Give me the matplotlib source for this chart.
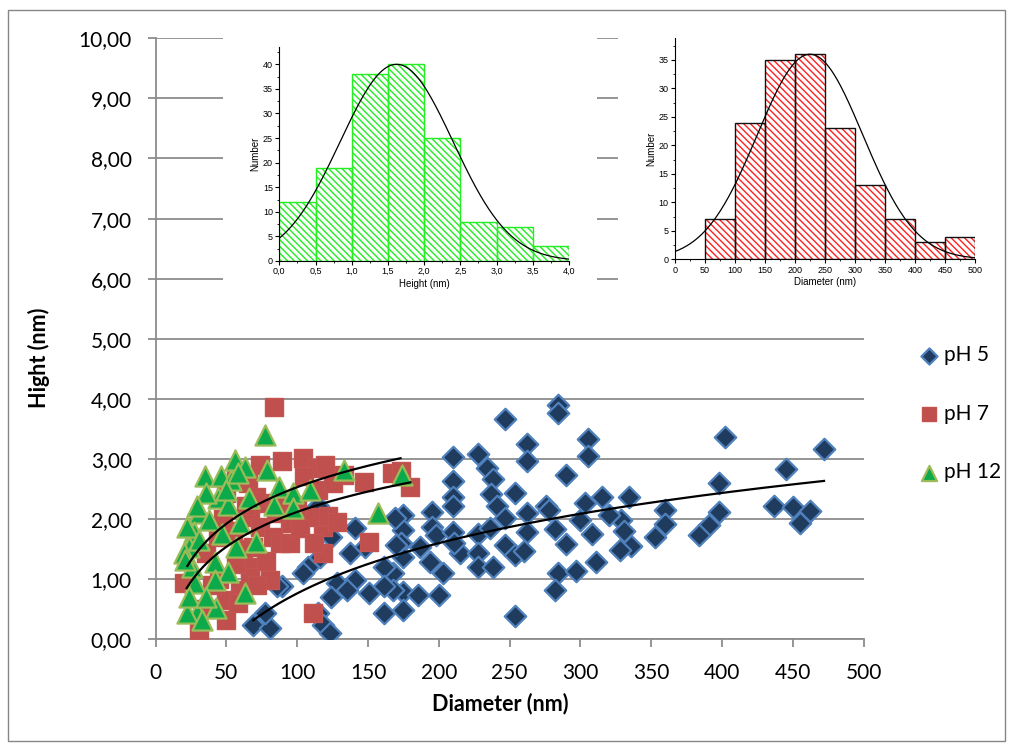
import matplotlib
matplotlib.use("Agg")
import matplotlib.pyplot as plt
import numpy as np
from matplotlib.patches import Rectangle
from matplotlib.ticker import MultipleLocator, FuncFormatter

plt.rcParams['font.family'] = ['Lato', 'DejaVu Sans']

# scatter data (diameter nm, height nm)
ph5_x = [402, 472, 445, 398, 334, 360, 360, 353, 398, 391, 384, 437, 450, 462, 455, 329, 331, 336, 328,
         284, 284, 247, 305, 305, 262, 262, 290, 210, 228, 234, 238, 210, 237, 254, 315, 303, 276, 210,
         210, 195, 175, 241, 247, 262, 278, 300, 320, 175, 195, 198, 210, 215, 228, 236, 282, 290, 308,
         262, 247, 254, 260, 228, 228, 238, 203, 194, 187, 173, 175, 168, 175, 185, 200, 175, 284, 282,
         297, 311, 254, 168, 211,
         69, 81, 77, 89, 115, 108, 104, 116, 124, 141, 148, 137, 161, 170, 169, 141, 128, 135, 124, 115,
         118, 123, 151, 161, 161, 86]
ph5_y = [3.36, 3.16, 2.84, 2.60, 2.37, 2.15, 1.92, 1.70, 2.12, 1.91, 1.74, 2.21, 2.20, 2.14, 1.94, 1.98, 1.81, 1.56, 1.49,
         3.90, 3.76, 3.66, 3.33, 3.05, 3.25, 2.96, 2.73, 3.03, 3.08, 2.85, 2.66, 2.63, 2.42, 2.43, 2.37, 2.27, 2.22, 2.36,
         2.21, 2.12, 2.07, 2.21, 2.01, 2.10, 2.15, 1.98, 2.07, 1.82, 1.87, 1.74, 1.79, 1.43, 1.76, 1.85, 1.83, 1.59, 1.76,
         1.79, 1.57, 1.40, 1.47, 1.43, 1.21, 1.21, 1.10, 1.28, 1.54, 1.60, 1.37, 1.10, 0.79, 0.74, 0.74, 0.49, 1.11, 0.82,
         1.14, 1.29, 0.39, 0.82, 1.60,
         0.24, 0.18, 0.43, 0.88, 2.21, 1.21, 1.10, 1.37, 1.71, 1.85, 1.54, 1.43, 1.21, 1.57, 2.01, 0.99, 0.93, 0.82, 0.71, 0.43,
         0.24, 0.10, 0.77, 0.88, 0.43, 0.88]

ph7_x = [84, 104, 89, 114, 74, 105, 133, 147, 167, 115, 78, 67, 74, 95, 118, 109, 83, 69, 151, 118,
         67, 81, 67, 60, 50, 31, 20, 111, 50, 57, 44, 36, 71, 64, 57, 50, 173, 180,
         45, 55, 62, 72, 78, 88, 90, 100, 58, 40, 35, 48, 65, 85, 95, 102, 122, 128, 112, 125, 120]
ph7_y = [3.87, 3.01, 2.96, 2.85, 2.90, 2.71, 2.73, 2.62, 2.76, 2.48, 2.26, 2.04, 1.87, 1.93, 1.87, 2.04, 1.71, 1.54, 1.62, 1.43,
         1.21, 0.99, 1.04, 0.82, 0.32, 0.16, 0.93, 0.43, 0.65, 1.26, 1.71, 1.43, 2.37, 2.21, 2.65, 2.43, 2.80, 2.54,
         1.00, 1.80, 1.50, 0.90, 1.30, 1.60, 2.30, 2.20, 0.60, 0.90, 0.50, 2.00, 2.60, 2.10, 1.60, 1.85, 2.05, 1.95, 1.60, 2.60, 2.90]

ph12_x = [77, 35, 56, 63, 79, 46, 53, 133, 87, 44, 31, 36, 51, 66, 84, 97, 109, 97, 60, 47,
          27, 24, 71, 57, 42, 26, 51, 42, 28, 63, 43, 29, 22, 33, 157, 22, 29, 20, 174,
          21, 31, 38, 24, 36, 50, 58]
ph12_y = [3.40, 2.71, 2.98, 2.87, 2.82, 2.71, 2.65, 2.82, 2.54, 2.35, 2.10, 2.43, 2.23, 2.35, 2.23, 2.43, 2.48, 2.18, 1.93, 1.76,
          1.79, 1.54, 1.62, 1.54, 1.29, 1.21, 1.12, 0.99, 0.93, 0.77, 0.52, 0.46, 0.43, 0.32, 2.10, 1.87, 2.21, 1.43, 2.73,
          1.32, 1.65, 1.99, 0.71, 0.71, 2.48, 2.76]

# log trendlines: y = a*ln(x) + b over [x0, x1]
trend_ph5 = (1.206, -4.79, 69, 472)
trend_ph7 = (0.838, -1.74, 22, 180)
trend_ph12 = (0.879, -1.517, 22.5, 173)

# inset histograms
h_edges = [0.0, 0.5, 1.0, 1.5, 2.0, 2.5, 3.0, 3.5, 4.0]
h_counts = [12, 19, 38, 40, 25, 8, 7, 3]
h_fit = (40, 1.62, 0.78)      # amplitude, centre, sigma
d_edges = [50, 100, 150, 200, 250, 300, 350, 400, 450, 500]
d_counts = [7, 24, 35, 36, 23, 13, 7, 3, 4]
d_fit = (36, 225, 88)

fig = plt.figure(figsize=(10.11, 7.46), dpi=100)
W, H = 1011, 746

def px(x0, y0, x1, y1):
    return [x0 / W, 1 - y1 / H, (x1 - x0) / W, (y1 - y0) / H]

# chart border
fig.patches.append(Rectangle((8 / W, 1 - 741 / H), 997 / W, 731 / H, transform=fig.transFigure,
                             fill=False, edgecolor='#868686', linewidth=1.0, zorder=0))

ax = fig.add_axes(px(155.5, 38.3, 863.7, 639.3))
grid_c = '#8c8c8c'
ax.scatter(ph5_x, ph5_y, marker='D', s=120, facecolor='#1F3B5E', edgecolor='#4F81BD', linewidth=1.6,
           label='pH 5', zorder=3)
ax.scatter(ph7_x, ph7_y, marker='s', s=165, facecolor='#C0504D', edgecolor='#C45450', linewidth=1.0,
           label='pH 7', zorder=4)
ax.scatter(ph12_x, ph12_y, marker='^', s=210, facecolor='#0DAA4C', edgecolor='#9BBB59', linewidth=1.6,
           label='pH 12', zorder=5)
for a, b, x0, x1 in (trend_ph5, trend_ph7, trend_ph12):
    xx = np.linspace(x0, x1, 200)
    ax.plot(xx, a * np.log(xx) + b, color='black', linewidth=1.6, zorder=6)

ax.set_xlim(0, 500)
ax.set_ylim(0, 10)
ax.xaxis.set_major_locator(MultipleLocator(50))
ax.yaxis.set_major_locator(MultipleLocator(1))
ax.yaxis.set_major_formatter(FuncFormatter(lambda v, p: f"{v:.2f}".replace('.', ',')))
ax.grid(axis='y', color=grid_c, linewidth=1.3, zorder=0)
ax.set_axisbelow(True)
for s in ('top', 'right'):
    ax.spines[s].set_visible(False)
for s in ('left', 'bottom'):
    ax.spines[s].set_color(grid_c)
    ax.spines[s].set_linewidth(1.3)
ax.tick_params(axis='both', colors=grid_c, labelcolor='black', labelsize=15, length=6, width=1.3)
ax.tick_params(axis='y', pad=11)
ax.tick_params(axis='x', pad=11)
ax.set_xlabel('Diameter (nm)', fontsize=15.5, fontweight='bold')
ax.set_ylabel('Hight (nm)', fontsize=15.5, fontweight='bold')
ax.xaxis.set_label_coords((500 - 155.5) / 708.2, (639.3 - 693) / 601)
ax.yaxis.set_label_coords((50 - 155.5) / 708.2, (639.3 - 358) / 601)
ax.legend(loc='upper left', bbox_to_anchor=(908 / W, 1 - 337 / H), bbox_transform=fig.transFigure,
          frameon=False, fontsize=15, labelspacing=1.85, handletextpad=0.15, markerscale=0.75,
          borderaxespad=0, handlelength=1.2)

# white backgrounds behind insets
for box in (px(223, 15, 597, 305), px(618, 15, 1000, 300)):
    fig.patches.append(Rectangle((box[0], box[1]), box[2], box[3], transform=fig.transFigure,
                                 facecolor='white', edgecolor='none', zorder=1))

def inset(rect, edges, counts, fit, hatch_c, edge_c, xmax, ymax, xstep, xminor, xfmt, xlabel):
    ia = fig.add_axes(rect)
    ia.set_zorder(2)
    widths = np.diff(edges)
    ia.bar(edges[:-1], counts, width=widths, align='edge', facecolor='white', edgecolor=hatch_c,
           hatch='\\\\\\\\\\', linewidth=0)
    ia.bar(edges[:-1], counts, width=widths, align='edge', fill=False, edgecolor=edge_c, linewidth=1.0)
    amp, mu, sig = fit
    xx = np.linspace(0, xmax, 300)
    ia.plot(xx, amp * np.exp(-(xx - mu) ** 2 / (2 * sig ** 2)), color='black', linewidth=0.9)
    ia.set_xlim(0, xmax)
    ia.set_ylim(0, ymax)
    ia.xaxis.set_major_locator(MultipleLocator(xstep))
    ia.xaxis.set_minor_locator(MultipleLocator(xminor))
    ia.yaxis.set_major_locator(MultipleLocator(5))
    ia.yaxis.set_minor_locator(MultipleLocator(2.5))
    ia.xaxis.set_major_formatter(FuncFormatter(xfmt))
    for s in ('top', 'right'):
        ia.spines[s].set_visible(False)
    ia.tick_params(which='major', labelsize=6.5, length=3, width=0.8, pad=1.5)
    ia.tick_params(which='minor', length=1.5, width=0.6)
    for lab in ia.get_xticklabels() + ia.get_yticklabels():
        lab.set_family(['Liberation Sans', 'DejaVu Sans'])
    ia.set_xlabel(xlabel, fontsize=7, family=['Liberation Sans'], labelpad=2)
    ia.set_ylabel('Number', fontsize=7, family=['Liberation Sans'], labelpad=2)
    return ia

inset(px(279.3, 47.1, 569, 261), h_edges, h_counts, h_fit, '#22EE22', '#22EE22', 4.0, 43.5, 0.5, 0.25,
      lambda v, p: f"{v:.1f}".replace('.', ','), 'Height (nm)')
inset(px(675, 38.3, 975, 259.3), d_edges, d_counts, d_fit, '#FF2020', '#111111', 500, 38.8, 50, 25,
      lambda v, p: f"{v:.0f}", 'Diameter (nm)')

fig.savefig('out.png', dpi=100)
